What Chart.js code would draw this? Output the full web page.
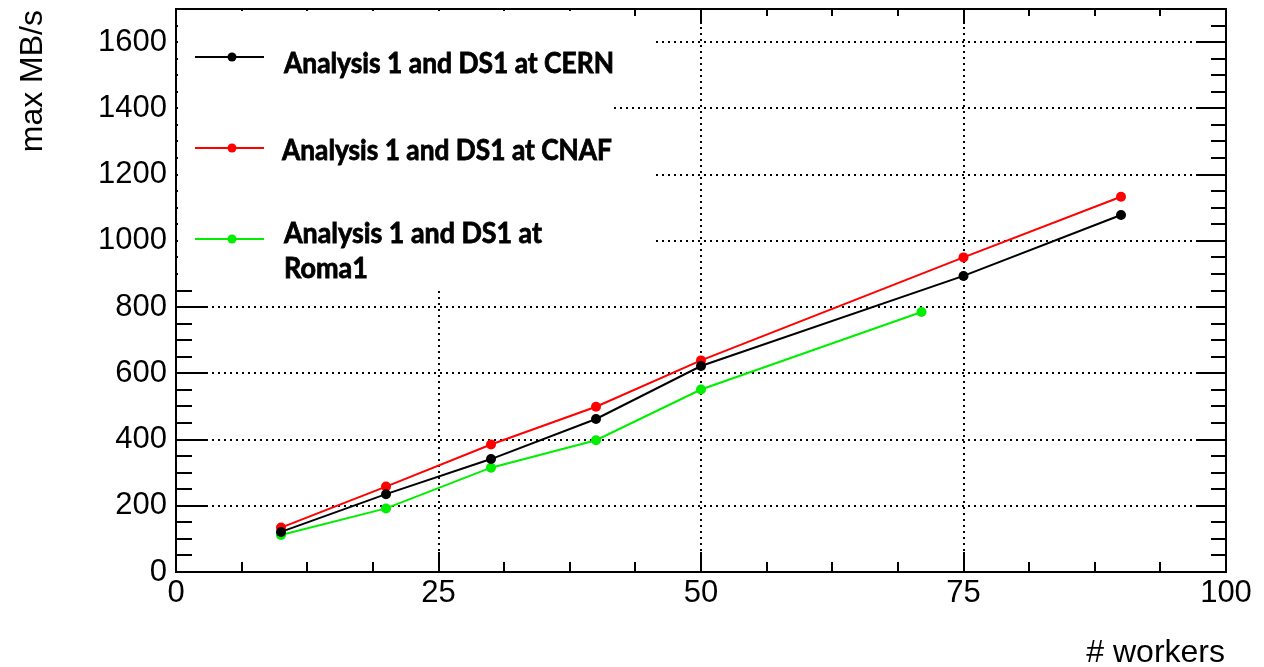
<!DOCTYPE html>
<html>
<head>
<meta charset="utf-8">
<script src="https://cdn.jsdelivr.net/npm/chart.js@4/dist/chart.umd.min.js"></script>
<style>
html,body{margin:0;padding:0;background:#fff}
canvas{display:block}
</style>
</head>
<body>
<canvas id="c" width="1264" height="667"></canvas>
<script>
// data
const workersFull=[10,20,30,40,50,75,90];
const workersRoma=[10,20,30,40,50,71];
const cern=[121,235,341,462,622,894,1078];
const cnaf=[134,258,385,499,639,950,1133];
const roma=[112,192,315,398,551,785];
const seriesNames=['Analysis 1 and DS1 at CERN','Analysis 1 and DS1 at CNAF','Analysis 1 and DS1 at Roma1'];
const xTicks=[0,25,50,75,100];
const yTicks=[0,200,400,600,800,1000,1200,1400,1600];
const xMinorStep=6.25, yMinorStep=50;

const pts=(xs,ys)=>xs.map((x,i)=>({x:x,y:ys[i]}));
const AX='"Liberation Sans", Arial, sans-serif';

function ds(label,xs,ys,col){
  return {label:label,data:pts(xs,ys),borderColor:col,backgroundColor:col,borderWidth:2,
    pointRadius:5,pointHoverRadius:5,pointBorderWidth:0,showLine:true,tension:0};
}

// frame, inward ticks, legend box + axis titles (ROOT style)
const rootDeco={
  id:'rootDeco',
  beforeDatasetsDraw(ch){
    const c=ch.ctx,a=ch.chartArea,xs=ch.scales.x,ys=ch.scales.y;
    c.save();c.strokeStyle='#000';c.lineWidth=2;c.beginPath();
    for(let v=0;v<=100.001;v+=xMinorStep){
      const px=Math.round(xs.getPixelForValue(v)), maj=xTicks.includes(v);
      c.moveTo(px,a.bottom);c.lineTo(px,a.bottom-(maj?20:10));
      c.moveTo(px,a.top);c.lineTo(px,a.top+(maj?15:7));
    }
    for(let v=0;v<=1700;v+=yMinorStep){
      const py=Math.round(ys.getPixelForValue(v)), maj=yTicks.includes(v);
      c.moveTo(a.left,py);c.lineTo(a.left+(maj?30:16),py);
      c.moveTo(a.right,py);c.lineTo(a.right-(maj?30:15),py);
    }
    c.stroke();
    // white legend boxes hide grid and ticks
    c.fillStyle='#fff';
    c.fillRect(a.left+2,a.top+2,612-a.left-2,288-a.top-2);
    c.fillRect(612,a.top+10,43,100-a.top-10);
    c.fillRect(612,116,43,288-116);
    c.restore();
  },
  afterDraw(ch){
    const c=ch.ctx,a=ch.chartArea;
    c.save();
    c.strokeStyle='#000';c.lineWidth=2;
    c.strokeRect(a.left,a.top,a.right-a.left,a.bottom-a.top);
    // legend
    const cols=ch.data.datasets.map(d=>d.borderColor);
    const rows=[
      {y:57,tx:284,lines:[[seriesNames[0],73,330]]},
      {y:148,tx:282,lines:[[seriesNames[1],160,330]]},
      {y:239,tx:284,lines:[['Analysis 1 and DS1 at',243,258],['Roma1',278,84]]}
    ];
    rows.forEach((r,i)=>{
      c.strokeStyle=cols[i];c.lineWidth=2;
      c.beginPath();c.moveTo(195,r.y);c.lineTo(264,r.y);c.stroke();
      c.fillStyle=cols[i];c.beginPath();c.arc(232,r.y,4.5,0,Math.PI*2);c.fill();
      c.fillStyle='#000';c.strokeStyle='#000';c.lineWidth=0.8;
      c.font='bold 28px Lato, "Open Sans", sans-serif';
      c.textAlign='left';c.textBaseline='alphabetic';
      r.lines.forEach(l=>{
        const w=Math.min(c.measureText(l[0]).width,l[2]);
        c.fillText(l[0],r.tx,l[1],w);
        c.strokeText(l[0],r.tx,l[1],w);
      });
    });
    // axis titles
    c.fillStyle='#000';c.font='32px '+AX;
    c.textAlign='right';c.textBaseline='alphabetic';
    c.fillText('# workers',1225,662);
    c.translate(42,10);c.rotate(-Math.PI/2);
    c.fillText('max MB/s',0,0);
    c.restore();
  }
};

const gridCol=(edge)=>ctx=>(ctx.tick&&edge.includes(ctx.tick.value))?'rgba(0,0,0,0)':'#000';

new Chart(document.getElementById('c'),{
  type:'scatter',
  data:{datasets:[
    ds(seriesNames[0],workersFull,cern,'#000000'),
    ds(seriesNames[1],workersFull,cnaf,'#ff0000'),
    ds(seriesNames[2],workersRoma,roma,'#00ee00')
  ]},
  options:{
    responsive:false,animation:false,devicePixelRatio:1,
    layout:{padding:{top:9,right:38,left:0,bottom:0}},
    plugins:{legend:{display:false},tooltip:{enabled:false}},
    scales:{
      x:{type:'linear',min:0,max:100,
        afterBuildTicks:s=>{s.ticks=xTicks.map(v=>({value:v}))},
        afterFit:s=>{s.height=95;s.paddingLeft=0;s.paddingRight=0},
        grid:{color:gridCol([0,100]),lineWidth:2,drawTicks:false},
        border:{display:false,dash:[2,4]},
        ticks:{color:'#000',font:{family:AX,size:31},padding:3,maxRotation:0,callback:v=>String(v)}},
      y:{type:'linear',min:0,max:1700,
        afterBuildTicks:s=>{s.ticks=yTicks.map(v=>({value:v}))},
        afterFit:s=>{s.width=176;s.paddingTop=0;s.paddingBottom=0},
        grid:{color:gridCol([0]),lineWidth:2,drawTicks:false},
        border:{display:false,dash:[2,4]},
        ticks:{color:'#000',font:{family:AX,size:31},padding:9,callback:v=>String(v)}}
    }
  },
  plugins:[rootDeco]
});
</script>
</body>
</html>
